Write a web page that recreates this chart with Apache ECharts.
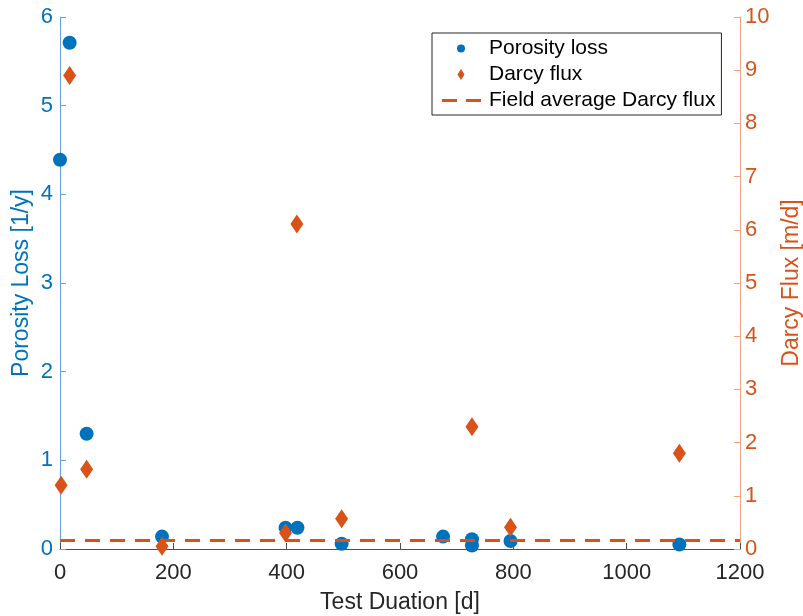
<!DOCTYPE html>
<html>
<head>
<meta charset="utf-8">
<script src="https://cdn.jsdelivr.net/npm/echarts@6/dist/echarts.min.js"></script>
<style>html,body{margin:0;padding:0;background:#fff}#c{width:803px;height:616px}</style>
</head>
<body>
<div id="c"></div>
<script>
// Data
const porosityLoss = [[0,4.39],[17,5.71],[47,1.30],[180,0.14],[398,0.24],[419,0.24],[497,0.06],[676,0.14],[727,0.11],[727,0.04],[795,0.09],[1093,0.05]];
const darcyFlux = [[2,1.20],[17,8.90],[47,1.50],[180,0.05],[398,0.30],[418,6.11],[497,0.57],[727,2.30],[795,0.41],[1093,1.80]];
const fieldAverage = 0.16;
const xRange = [0, 1200];
const seriesNames = ['Porosity loss', 'Darcy flux', 'Field average Darcy flux'];
const axisNames = {x: 'Test Duation [d]', left: 'Porosity Loss [1/y]', right: 'Darcy Flux [m/d]'};

const BLUE = '#0072BD', ORANGE = '#D95319', DARK = '#262626';
const BLUE_LINE = '#62a3d9', ORANGE_LINE = '#efa37f';
const FONT = 'Liberation Sans';

const chart = echarts.init(document.getElementById('c'));
chart.setOption({
  animation: false,
  textStyle: {fontFamily: FONT},
  grid: {left: 60, right: 63, top: 17, bottom: 67, outerBoundsMode: 'none', containLabel: false},
  legend: {
    orient: 'vertical', left: 432, top: 33,
    padding: [5, 6, 4, 6],
    itemWidth: 46, itemHeight: 11, itemGap: 5,
    borderColor: DARK, borderWidth: 1,
    textStyle: {fontFamily: FONT, fontSize: 21, color: '#000'},
    data: [
      {name: seriesNames[0], icon: 'path://M0,0M11,11M1.5,5.5A4,4,0,1,1,9.5,5.5A4,4,0,1,1,1.5,5.5Z'},
      {name: seriesNames[1], icon: 'path://M5,0L8.5,5.5L5,11L1.5,5.5Z'},
      {name: seriesNames[2], icon: 'path://M0,0M46,3M4,0h15v3h-15zM28,0h15v3h-15z'}
    ]
  },
  xAxis: {
    type: 'value', min: xRange[0], max: xRange[1], interval: 200,
    name: axisNames.x, nameLocation: 'middle', nameGap: 42,
    nameTextStyle: {fontSize: 23, color: DARK, fontFamily: FONT},
    axisLine: {lineStyle: {color: '#4d4d4d', width: 1}},
    axisTick: {inside: true, length: 6, lineStyle: {color: '#4d4d4d'}},
    axisLabel: {fontSize: 22, color: DARK, margin: 13, fontFamily: FONT, formatter: v => String(v)},
    splitLine: {show: false}
  },
  yAxis: [{
    type: 'value', min: 0, max: 6, interval: 1, position: 'left',
    name: axisNames.left, nameLocation: 'middle', nameGap: 27, nameRotate: 90,
    nameMoveOverlap: false,
    nameTextStyle: {fontSize: 23, color: BLUE, fontFamily: FONT},
    axisLine: {show: true, lineStyle: {color: BLUE_LINE, width: 1}},
    axisTick: {show: true, inside: true, length: 6, lineStyle: {color: BLUE_LINE}},
    axisLabel: {fontSize: 22, color: BLUE, margin: 7, fontFamily: FONT},
    splitLine: {show: false}
  }, {
    type: 'value', min: 0, max: 10, interval: 1, position: 'right',
    name: axisNames.right, nameLocation: 'middle', nameGap: 38, nameRotate: 90,
    nameTextStyle: {fontSize: 23, color: ORANGE, fontFamily: FONT},
    axisLine: {show: true, lineStyle: {color: ORANGE_LINE, width: 1}},
    axisTick: {show: true, inside: true, length: 6, lineStyle: {color: ORANGE_LINE}},
    axisLabel: {fontSize: 22, color: ORANGE, margin: 5, fontFamily: FONT},
    splitLine: {show: false}
  }],
  series: [{
    name: seriesNames[0], type: 'scatter', yAxisIndex: 0,
    symbol: 'circle', symbolSize: 14,
    itemStyle: {color: BLUE, opacity: 1},
    data: porosityLoss, z: 3
  }, {
    name: seriesNames[1], type: 'scatter', yAxisIndex: 1,
    symbol: 'diamond', symbolSize: [13, 19],
    itemStyle: {color: ORANGE, opacity: 1},
    data: darcyFlux, z: 4
  }, {
    name: seriesNames[2], type: 'line', yAxisIndex: 1,
    symbol: 'none', showSymbol: false,
    lineStyle: {color: ORANGE, width: 3, type: [15, 10]},
    itemStyle: {color: ORANGE},
    data: [[xRange[0], fieldAverage], [xRange[1], fieldAverage]], z: 5
  }]
});
</script>
</body>
</html>
